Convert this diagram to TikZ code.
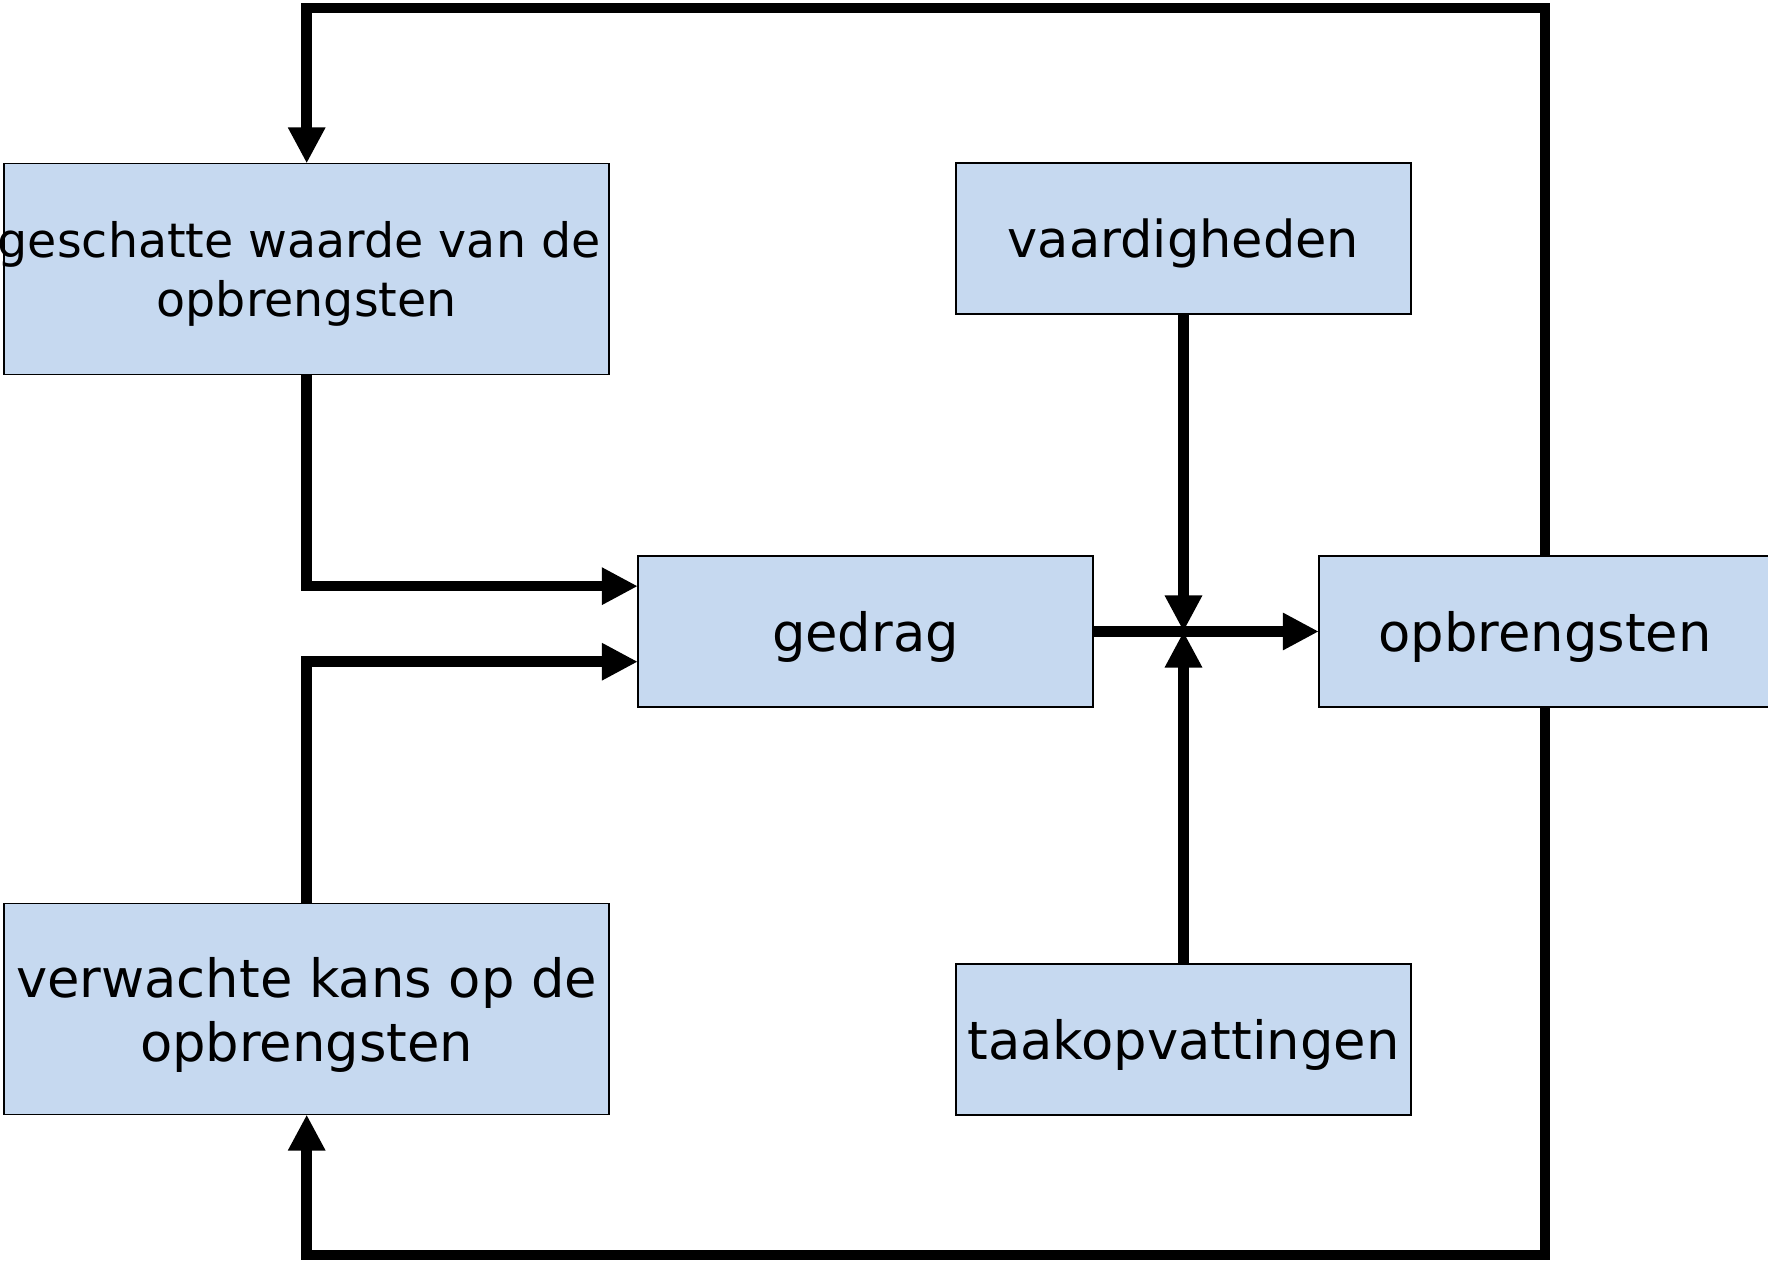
\documentclass[tikz,border=0pt]{standalone}
\usepackage{fontspec}
\setmainfont{DejaVu Sans}
\usetikzlibrary{arrows.meta,calc}
\definecolor{boxblue}{HTML}{C6D9F0}

\begin{document}
\begin{tikzpicture}[x=0.01cm,y=-0.01cm,
            box/.style={draw=black,line width=0.5pt,fill=boxblue,inner sep=0pt,outer sep=0pt,align=center,
            text depth=0pt,font=\fontsize{15}{18.2}\selectfont},
            wide/.style={minimum width=6.045cm,minimum height=2.11cm},
            small/.style={minimum width=4.55cm,minimum height=1.51cm},
            flow/.style={line width=0.105cm,-{Triangle[length=0.36cm,width=0.35cm]}}
            ]
            \useasboundingbox (0,0) rectangle (1768,1261);
            % boxes
            \node[box,wide,font=\fontsize{13.5}{16.7}\selectfont] (schatting) at (306.7,269) {\makebox[0pt]{geschatte waarde van de\hspace*{0.15cm}}\\opbrengsten};
            \node[box,wide] (kans) at (306.7,1009) {verwachte kans op de\\opbrengsten};
            \node[box,small] (gedrag) at (865.5,631.5) {gedrag};
            \node[box,small,minimum width=4.52cm] (opbrengsten) at (1545,631.5) {opbrengsten};
            \node[box,small,font=\fontsize{14.5}{17}\selectfont] (vaardigheden) at (1183.5,238.5) {vaardigheden};
            \node[box,small] (taak) at (1183.5,1039.5) {taakopvattingen};
            % loop lines
            \coordinate (boven) at (0,8);
            \coordinate (onder) at (0,1255);
            \coordinate (knoop) at (gedrag.east -| vaardigheden.south);
            % arrows
            \draw[flow] (opbrengsten.north) -- (opbrengsten.north |- boven) -| (schatting.north);
            \draw[flow] (opbrengsten.south) -- (opbrengsten.south |- onder) -| (kans.south);
            \draw[flow] (schatting.south) |- ($(gedrag.north west)!0.2!(gedrag.south west)$);
            \draw[flow] (kans.north) |- ($(gedrag.north west)!0.7!(gedrag.south west)$);
            \draw[flow] (gedrag.east) -- (opbrengsten.west);
            \draw[flow] (vaardigheden.south) -- (knoop);
            \draw[flow] (taak.north) -- (knoop);
        \end{tikzpicture}
\end{document}
